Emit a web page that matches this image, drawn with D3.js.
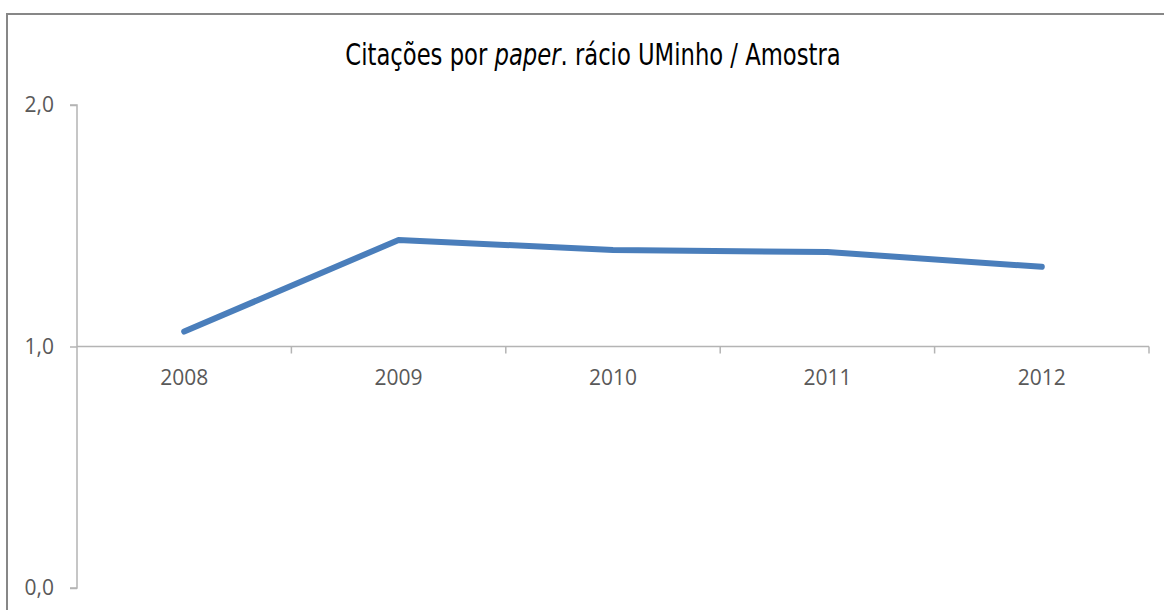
<!DOCTYPE html>
<html>
<head>
<meta charset="utf-8">
<script src="https://cdn.jsdelivr.net/npm/d3@7"></script>
<style>
html,body{margin:0;padding:0;background:#fff;}
svg{display:block;}
</style>
</head>
<body>
<svg id="chart" width="1164" height="610"></svg>
<script>
const categories = ["2008", "2009", "2010", "2011", "2012"];
const values = [1.062, 1.441, 1.400, 1.391, 1.330];
const yTicks = [0, 1, 2];
const yTickLabels = ["0,0", "1,0", "2,0"];

const svg = d3.select("#chart");
const W = 1164, H = 610;
const m = {left: 77, right: 15, top: 105, bottom: 22};

// outer frame
svg.append("rect")
  .attr("x", 7).attr("y", 14)
  .attr("width", W + 20).attr("height", H + 20)
  .attr("fill", "none").attr("stroke", "#878787").attr("stroke-width", 2);

const x = d3.scaleBand().domain(categories).range([m.left, W - m.right]).padding(0);
const y = d3.scaleLinear().domain([0, 2]).range([H - m.bottom, m.top]);

const axisColor = "#b4b4b4";
const labelFont = "'Open Sans', sans-serif";

// y axis
const yAxis = svg.append("g").attr("transform", `translate(${m.left},0)`)
  .call(d3.axisLeft(y).tickValues(yTicks).tickFormat((d, i) => yTickLabels[i]).tickSize(7).tickPadding(16));
yAxis.select(".domain").attr("stroke", axisColor).attr("stroke-width", 1.5).attr("d", `M-7,${y(2)}H0V${y(0)}H-7`);
yAxis.selectAll(".tick line").attr("stroke", axisColor).attr("stroke-width", 1.5);
yAxis.selectAll(".tick text")
  .attr("fill", "#595959").attr("font-family", labelFont).attr("font-size", 21);

// x axis at value 1
const xAxisG = svg.append("g").attr("transform", `translate(0,${y(1)})`);
xAxisG.call(d3.axisBottom(x).tickSize(0).tickPadding(24));
xAxisG.select(".domain").attr("stroke", axisColor).attr("stroke-width", 1.5)
  .attr("d", `M${m.left},0H${W - m.right}`);
xAxisG.selectAll(".tick text")
  .attr("fill", "#595959").attr("font-family", labelFont).attr("font-size", 21);
// boundary ticks
const bounds = categories.map(c => x(c) + x.bandwidth());
xAxisG.selectAll(".bound").data(bounds).enter().append("line")
  .attr("x1", d => d).attr("x2", d => d).attr("y1", 0).attr("y2", 7)
  .attr("stroke", axisColor).attr("stroke-width", 1.5);

// line
const line = d3.line()
  .x((d, i) => x(categories[i]) + x.bandwidth() / 2)
  .y(d => y(d));
svg.append("path").datum(values)
  .attr("d", line)
  .attr("fill", "none").attr("stroke", "#4a7ebb").attr("stroke-width", 6)
  .attr("stroke-linecap", "round").attr("stroke-linejoin", "round");

// title (condensed look: stretched vertically)
const titleG = svg.append("g").attr("transform", "translate(593,65) scale(1,1.2)");
const title = titleG.append("text")
  .attr("x", 0).attr("y", 0)
  .attr("text-anchor", "middle")
  .attr("font-family", "'Liberation Sans Narrow', 'DejaVu Sans Condensed', sans-serif")
  .attr("font-size", 28).attr("fill", "#000");
title.append("tspan").text("Citações por ");
title.append("tspan").attr("font-style", "italic").text("paper");
title.append("tspan").text(". rácio UMinho / Amostra");
const tl = title.node().getComputedTextLength();
if (tl > 0) title.attr("font-size", 28 * 495 / tl);
</script>
</body>
</html>
